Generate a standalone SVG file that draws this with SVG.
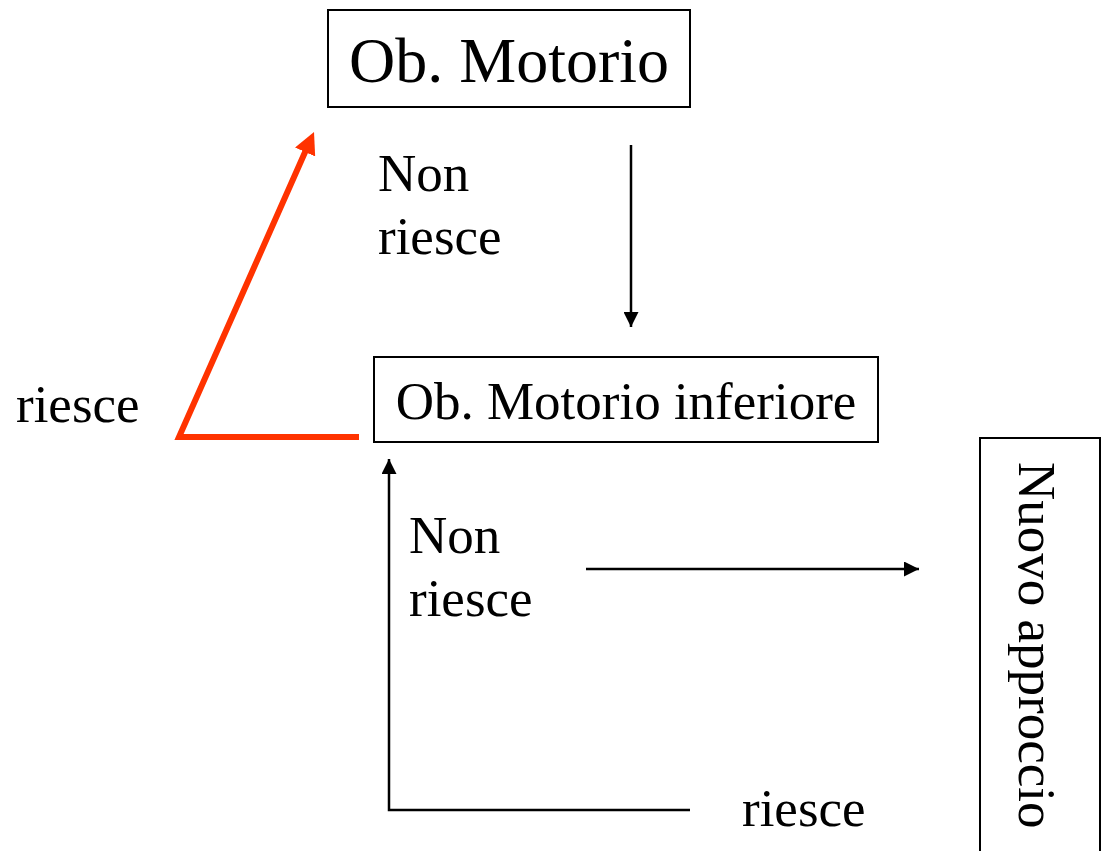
<svg xmlns="http://www.w3.org/2000/svg" width="1105" height="851" viewBox="0 0 1105 851">
<style>
.box{fill:#fff;stroke:#000;stroke-width:2}
.t{font-family:"Liberation Serif","Times New Roman",serif;fill:#000}
.k{stroke:#000;stroke-width:2.5;fill:none}
.r{stroke:#FF3300;stroke-width:6;fill:none;stroke-linejoin:miter}
</style>
<defs>
<marker id="ah" viewBox="0 0 10 10" refX="10" refY="5" markerWidth="15" markerHeight="15" markerUnits="userSpaceOnUse" orient="auto"><path d="M0,0 L10,5 L0,10 z" fill="#000"/></marker>
<marker id="ahr" viewBox="0 0 10 10" refX="1" refY="5" markerWidth="22" markerHeight="22" markerUnits="userSpaceOnUse" orient="auto"><path d="M0,0 L10,5 L0,10 z" fill="#FF3300"/></marker>
</defs>
<rect width="1105" height="851" fill="#fff"/>
<g id="n1"><rect class="box" x="328" y="10" width="362" height="97"/><text class="t" x="509" y="82" font-size="64" text-anchor="middle">Ob. Motorio</text></g>
<g id="n2"><rect class="box" x="374" y="357" width="504" height="85"/><text class="t" x="626" y="419" font-size="53" text-anchor="middle">Ob. Motorio inferiore</text></g>
<g id="n3"><rect class="box" x="980" y="438" width="120" height="420"/><text class="t" font-size="53" transform="translate(1019,462) rotate(90)">Nuovo approccio</text></g>
<g id="connectors">
<line class="k" x1="631" y1="145" x2="631" y2="327" marker-end="url(#ah)"/>
<polyline class="k" points="690,810 389,810 389,459" marker-end="url(#ah)"/>
<line class="k" x1="586" y1="569" x2="919" y2="569" marker-end="url(#ah)"/>
<polyline class="r" points="359,437 179,437 306,150" marker-end="url(#ahr)"/>
</g>
<g id="labels">
<text class="t" font-size="53" x="378" y="191">Non</text>
<text class="t" font-size="53" x="378" y="254">riesce</text>
<text class="t" font-size="53" x="16" y="422">riesce</text>
<text class="t" font-size="53" x="409" y="553">Non</text>
<text class="t" font-size="53" x="409" y="616">riesce</text>
<text class="t" font-size="53" x="742" y="826">riesce</text>
</g>
</svg>
